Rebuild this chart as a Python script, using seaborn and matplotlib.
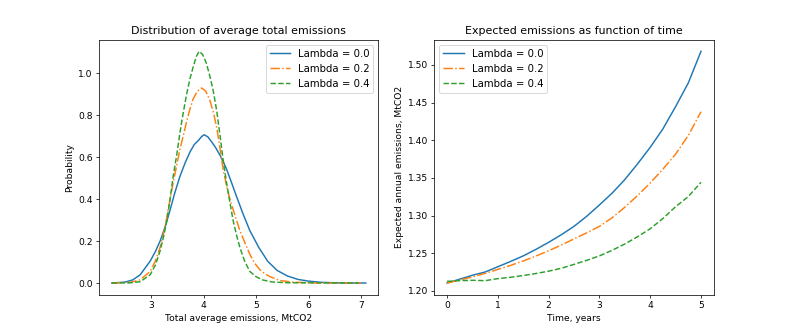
import matplotlib
matplotlib.use("Agg")
import matplotlib.pyplot as plt
import pandas as pd
import seaborn as sns

# distribution of average total emissions
x_l00 = [2.25, 2.5, 2.65, 2.79, 2.98, 3.08, 3.17, 3.27, 3.36, 3.45, 3.55, 3.65, 3.74, 3.82,
         3.9, 3.96, 4.01, 4.08, 4.15, 4.23, 4.31, 4.37, 4.435, 4.53, 4.625, 4.75, 4.88,
         5.05, 5.22, 5.4, 5.6, 5.8, 6.0, 6.25, 6.6, 7.09]
p_l00 = [0.0, 0.004, 0.015, 0.039, 0.104, 0.15, 0.20, 0.27, 0.348, 0.43, 0.51, 0.575, 0.625,
         0.66, 0.68, 0.698, 0.707, 0.697, 0.674, 0.645, 0.61, 0.58, 0.544, 0.48, 0.414,
         0.33, 0.25, 0.17, 0.104, 0.06, 0.033, 0.017, 0.009, 0.003, 0.0005, 0.0]
x_l02 = [2.25, 2.6, 2.79, 2.98, 3.08, 3.17, 3.24, 3.30, 3.36, 3.42, 3.49, 3.55, 3.62, 3.675,
         3.74, 3.80, 3.88, 3.96, 4.04, 4.12, 4.19, 4.25, 4.31, 4.37, 4.44, 4.5, 4.6, 4.69,
         4.79, 4.88, 4.97, 5.07, 5.16, 5.26, 5.45, 5.7, 6.1, 7.0]
p_l02 = [0.0, 0.003, 0.015, 0.055, 0.105, 0.17, 0.24, 0.316, 0.40, 0.48, 0.565, 0.64, 0.71,
         0.77, 0.83, 0.878, 0.915, 0.93, 0.915, 0.87, 0.81, 0.74, 0.645, 0.544, 0.46, 0.40,
         0.32, 0.25, 0.19, 0.137, 0.095, 0.064, 0.045, 0.031, 0.012, 0.004, 0.0005, 0.0]
x_l04 = [2.25, 2.6, 2.79, 2.98, 3.08, 3.17, 3.24, 3.30, 3.36, 3.42, 3.49, 3.55, 3.61, 3.675,
         3.74, 3.80, 3.86, 3.915, 3.98, 4.05, 4.12, 4.18, 4.25, 4.31, 4.37, 4.435, 4.5,
         4.56, 4.63, 4.69, 4.78, 4.88, 5.0, 5.12, 5.3, 5.6, 6.95]
p_l04 = [0.0, 0.001, 0.006, 0.039, 0.085, 0.153, 0.225, 0.30, 0.40, 0.51, 0.615, 0.72,
         0.81, 0.90, 0.975, 1.03, 1.08, 1.105, 1.09, 1.05, 0.985, 0.92, 0.82, 0.707, 0.59,
         0.48, 0.385, 0.30, 0.225, 0.17, 0.105, 0.055, 0.03, 0.015, 0.005, 0.001, 0.0]

# expected emissions over time
t_years = [0, 0.25, 0.5, 0.75, 1, 1.25, 1.5, 1.75, 2, 2.25, 2.5, 2.75, 3, 3.25, 3.5, 3.75,
           4, 4.25, 4.5, 4.75, 5]
e_l00 = [1.2104, 1.2155, 1.2207, 1.2250, 1.2320, 1.2390, 1.2464, 1.2550, 1.2644, 1.2745,
         1.2856, 1.2990, 1.3140, 1.3297, 1.3477, 1.3685, 1.3905, 1.4150, 1.4446, 1.4760, 1.5180]
e_l02 = [1.2104, 1.2143, 1.2185, 1.2232, 1.2284, 1.2338, 1.2396, 1.2462, 1.2532, 1.2608,
         1.2690, 1.2770, 1.2856, 1.2970, 1.3110, 1.3265, 1.3432, 1.3615, 1.3815, 1.4063, 1.4378]
e_l04 = [1.2126, 1.2135, 1.2140, 1.2135, 1.2162, 1.2180, 1.2203, 1.2230, 1.2261, 1.2300,
         1.2351, 1.2405, 1.2464, 1.2538, 1.2622, 1.2718, 1.2824, 1.2960, 1.3117, 1.3252, 1.3441]

labels = ["Lambda = 0.0", "Lambda = 0.2", "Lambda = 0.4"]
styles = ["-", "-.", "--"]
colors = ["#1f77b4", "#ff7f0e", "#2ca02c"]

fig, (ax1, ax2) = plt.subplots(1, 2, figsize=(793 / 66, 331 / 66), dpi=66)

dist = [(x_l00, p_l00), (x_l02, p_l02), (x_l04, p_l04)]
for (xs, ps), lab, ls, c in zip(dist, labels, styles, colors):
    df = pd.DataFrame({"x": xs, "p": ps})
    sns.lineplot(data=df, x="x", y="p", ax=ax1, label=lab, linestyle=ls, color=c, linewidth=1.6)
ax1.set(title="Distribution of average total emissions",
        xlabel="Total average emissions, MtCO2", ylabel="Probability")
ax1.legend(loc="upper right", fontsize=11)

for ys, lab, ls, c in zip([e_l00, e_l02, e_l04], labels, styles, colors):
    df = pd.DataFrame({"t": t_years, "e": ys})
    sns.lineplot(data=df, x="t", y="e", ax=ax2, label=lab, linestyle=ls, color=c, linewidth=1.6)
ax2.set(title="Expected emissions as function of time",
        xlabel="Time, years", ylabel="Expected annual emissions, MtCO2")
ax2.legend(loc="upper left", fontsize=11)

fig.savefig("out.png", dpi=66)
